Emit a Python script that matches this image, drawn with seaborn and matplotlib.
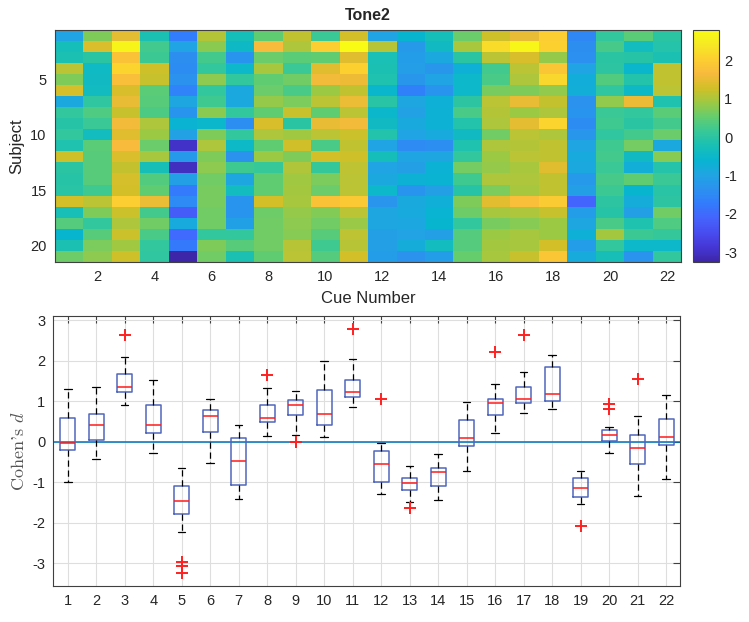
import numpy as np
import pandas as pd
import matplotlib as mpl
import matplotlib.pyplot as plt
import seaborn as sns
from matplotlib.colors import LinearSegmentedColormap

# Cohen's d per subject (rows 1..21) for each cue
cue_01 = [-0.99, -0.3, -0.2, 1.1, 0.7, 1.31, -0.9, 0.1, -0.05, 0.1, -0.15, 1.25, 0.0, -0.05, -0.02, 1.3, -0.25, 0.4, -0.6, -0.2, 0.58]
cue_02 = [0.7, 1.36, 0.0, -0.42, -0.4, -0.38, 0.05, 0.35, 0.15, -0.35, 0.45, 0.42, 0.42, 0.42, 0.2, 1.1, 0.7, 0.1, 0.42, 0.69, 0.8]
cue_03 = [1.45, 2.64, 1.8, 2.1, 1.75, 1.34, 1.5, 1.2, 1.6, 1.4, 1.68, 1.36, 1.18, 1.32, 1.3, 2.0, 1.22, 1.0, 1.22, 0.91, 1.25]
cue_04 = [-0.2, 0.22, 0.18, 1.25, 1.2, 0.45, 0.42, 0.33, 1.0, 0.9, 0.55, 0.95, -0.27, 0.38, 0.5, 1.53, 0.25, 0.6, 0.3, 0.1, 0.05]
cue_05 = [-1.7, -1.0, -1.4, -1.45, -1.35, -1.6, -0.95, -1.3, -0.65, -1.05, -2.97, -1.2, -3.06, -1.09, -1.75, -1.5, -2.22, -0.85, -2.0, -1.78, -3.25]
cue_06 = [1.06, 0.78, 0.25, 0.1, 0.8, 0.1, 0.2, 0.78, -0.53, 0.7, 1.0, 0.7, 0.8, 0.6, 0.65, 0.65, 0.6, 0.6, 0.1, 0.7, 0.6]
cue_07 = [-0.3, -0.45, -1.3, -0.5, 0.1, -0.9, -0.9, 0.1, -1.41, 0.1, -0.47, -1.35, 0.2, -0.95, -0.35, -1.3, -1.3, -1.06, 0.09, 0.42, -0.2]
cue_08 = [0.5, 1.66, 0.55, 0.95, 0.49, 0.55, 0.85, 0.5, 1.33, 1.0, 0.5, 0.9, 0.14, 0.5, 0.49, 1.3, 0.58, 0.6, 0.6, 0.6, 0.5]
cue_09 = [1.15, 1.0, 0.45, 0.17, 0.6, 0.3, 0.67, 1.2, 0.0, 0.91, 1.26, 0.7, 1.04, 0.92, 0.93, 0.95, 0.85, 0.8, 0.75, 1.08, 1.1]
cue_10 = [0.15, 1.99, 0.5, 1.4, 1.6, 0.9, 1.1, 0.5, 1.5, 1.1, 0.3, 1.28, 0.12, 0.69, 0.55, 1.8, 0.72, 0.6, 0.42, 0.2, 0.4]
cue_11 = [1.3, 2.79, 1.4, 2.05, 1.55, 1.15, 1.52, 1.1, 1.6, 1.23, 1.15, 1.25, 1.12, 1.1, 1.1, 1.9, 1.1, 0.86, 1.12, 1.08, 1.3]
cue_12 = [-1.0, 1.07, -0.22, -0.2, -0.15, -0.54, -0.02, -0.52, -0.4, -0.1, -1.0, -0.3, -1.0, -0.9, -0.5, -1.28, -0.95, -0.95, -1.1, -1.1, -1.15]
cue_13 = [-0.59, -1.18, -1.15, -1.12, -1.25, -1.64, -0.95, -1.05, -0.89, -1.0, -1.48, -0.98, -1.1, -0.7, -1.3, -0.88, -0.85, -0.93, -1.01, -0.8, -1.35]
cue_14 = [-0.3, -0.4, -0.9, -1.25, -1.0, -1.3, -0.72, -0.7, -0.7, -0.85, -1.43, -0.95, -0.67, -0.64, -1.08, -0.74, -0.62, -0.6, -1.1, -0.35, -1.15]
cue_15 = [0.56, 0.98, 0.0, -0.71, -0.5, -0.5, 0.02, 0.3, -0.1, -0.4, -0.15, 0.08, 0.62, 0.2, -0.05, 0.7, 0.58, 0.1, 0.4, 0.4, 0.54]
cue_16 = [1.25, 2.21, 1.1, 0.22, 0.3, 0.66, 1.1, 1.06, 1.0, 0.6, 1.0, 0.9, 0.85, 1.0, 0.67, 1.43, 0.95, 0.65, 0.9, 0.94, 0.95]
cue_17 = [1.5, 2.65, 1.35, 1.1, 1.0, 0.71, 1.5, 0.9, 1.45, 1.1, 1.06, 1.1, 0.98, 1.0, 0.95, 1.73, 1.0, 0.75, 0.95, 0.96, 1.2]
cue_18 = [2.0, 2.05, 0.85, 1.86, 2.14, 0.81, 1.18, 1.0, 2.1, 1.02, 1.15, 1.15, 1.4, 1.15, 1.16, 1.95, 1.2, 0.9, 0.9, 1.3, 1.86]
cue_19 = [-1.53, -1.4, -1.38, -1.0, -0.78, -0.75, -1.36, -1.3, -1.45, -1.25, -0.98, -0.85, -0.9, -1.2, -1.1, -2.08, -1.15, -0.95, -0.71, -1.13, -0.82]
cue_20 = [0.1, 0.28, 0.0, 0.01, 0.36, 0.03, 0.82, 0.15, 0.2, 0.05, 0.2, 0.25, 0.17, 0.28, 0.18, 0.02, -0.05, 0.3, 0.94, 0.1, -0.27]
cue_21 = [0.45, -0.35, -0.05, -0.55, -0.1, -0.45, 1.54, 0.1, 0.0, 0.25, 0.64, -0.4, -0.75, 0.5, -0.6, -0.8, -1.1, -0.15, 0.18, -0.5, -1.33]
cue_22 = [0.0, -0.08, -0.2, 1.16, 1.15, 1.1, -0.15, 0.45, 0.25, 0.56, -0.91, 0.75, -0.07, 0.15, -0.02, 0.02, 0.6, 0.35, 0.12, -0.5, 0.08]

cue_lists = [cue_01, cue_02, cue_03, cue_04, cue_05, cue_06, cue_07, cue_08,
             cue_09, cue_10, cue_11, cue_12, cue_13, cue_14, cue_15, cue_16,
             cue_17, cue_18, cue_19, cue_20, cue_21, cue_22]
cue_numbers = list(range(1, 23))
subjects = list(range(1, 22))

# MATLAB parula (sampled)
parula_colors = [
    (0.2422, 0.1504, 0.6603), (0.2706, 0.2147, 0.8364), (0.2813, 0.3006, 0.9414),
    (0.2699, 0.3892, 0.9906), (0.1963, 0.4847, 0.9892), (0.1687, 0.5703, 0.9359),
    (0.1248, 0.6459, 0.8883), (0.0297, 0.7082, 0.8163), (0.0964, 0.7500, 0.7120),
    (0.2161, 0.7843, 0.5923), (0.3909, 0.8029, 0.4354), (0.6174, 0.7876, 0.2612),
    (0.8203, 0.7498, 0.1535), (0.9728, 0.7298, 0.2394), (0.9892, 0.8136, 0.1885),
    (0.9597, 0.9135, 0.1423), (0.9769, 0.9839, 0.0805),
]
parula = LinearSegmentedColormap.from_list("parula", parula_colors)

mat = np.column_stack(cue_lists)
heat_df = pd.DataFrame(mat, index=subjects, columns=cue_numbers)
long_df = heat_df.melt(var_name="cue", value_name="d")

sns.set_theme(style="white")
plt.rcParams['font.family'] = ['Liberation Sans', 'DejaVu Sans']
plt.rcParams['mathtext.fontset'] = 'cm'
plt.rcParams['axes.unicode_minus'] = False
text_col = '#262626'
axis_col = '#404040'

fig = plt.figure(figsize=(7.49, 6.22), dpi=100)
ax1 = fig.add_axes([0.0734, 0.579, 0.836, 0.373])
cax = fig.add_axes([0.9255, 0.579, 0.0345, 0.373])
ax2 = fig.add_axes([0.0714, 0.0585, 0.837, 0.433])

# top: heatmap
sns.heatmap(heat_df, ax=ax1, cbar_ax=cax, cmap=parula,
            vmin=mat.min(), vmax=mat.max(), xticklabels=False, yticklabels=False)
ax1.set_xticks([c - 0.5 for c in cue_numbers if c % 2 == 0])
ax1.set_xticklabels([str(c) for c in cue_numbers if c % 2 == 0])
ax1.set_yticks([s - 0.5 for s in subjects if s % 5 == 0])
ax1.set_yticklabels([str(s) for s in subjects if s % 5 == 0], rotation=0)
ax1.set_title('Tone2', fontweight='bold', fontsize=11.5, color=text_col, pad=7)
ax1.set_xlabel('Cue Number', fontsize=12, color=text_col, labelpad=5)
ax1.set_ylabel('Subject', fontsize=12, color=text_col, labelpad=4)
for sp in ax1.spines.values():
    sp.set_visible(True)
    sp.set_color(axis_col)
    sp.set_linewidth(0.8)
ax1.tick_params(direction='in', length=4, width=0.8, color=axis_col, pad=6,
                top=True, right=True, labelsize=10.5, labelcolor=text_col)

cb = ax1.collections[0].colorbar
cb.set_ticks([-3, -2, -1, 0, 1, 2])
cb.ax.tick_params(direction='in', length=3, width=0.8, color=axis_col,
                  labelsize=10.5, labelcolor=text_col)
cb.outline.set_visible(True)
cb.outline.set_edgecolor(axis_col)
cb.outline.set_linewidth(0.8)

# bottom: box plots
sns.boxplot(data=long_df, x='cue', y='d', ax=ax2, width=0.53, fill=False,
            whis=1.5, linewidth=1.1,
            boxprops=dict(color='#4f67bd'),
            whiskerprops=dict(color='black', linestyle=(0, (5, 3)), linewidth=0.9),
            capprops=dict(color='black', linewidth=0.9),
            medianprops=dict(color='#ff1a1a', linewidth=1.1),
            flierprops=dict(marker='+', markeredgecolor='#ff2020', markersize=8,
                            markeredgewidth=1.4))
ax2.axhline(0, color='#0072BD', linewidth=1.1, zorder=1)
ax2.set_xlim(-0.5, 21.5)
ax2.set_ylim(-3.55, 3.1)
ax2.set_yticks([-3, -2, -1, 0, 1, 2, 3])
ax2.set_yticklabels(['-3', '-2', '-1', '0', '1', '2', '3'])
ax2.set_xlabel('')
ax2.set_ylabel("Cohen's $d$", fontsize=13, color='#555555', family='cmr10', labelpad=4)
ax2.grid(True, color='#dedede', linewidth=0.8)
ax2.set_axisbelow(True)
for sp in ax2.spines.values():
    sp.set_color(axis_col)
    sp.set_linewidth(0.8)
ax2.tick_params(direction='in', length=5, width=0.8, color=axis_col, pad=6,
                top=True, right=True, labelsize=10.5, labelcolor=text_col)

plt.savefig('out.png', dpi=100)
